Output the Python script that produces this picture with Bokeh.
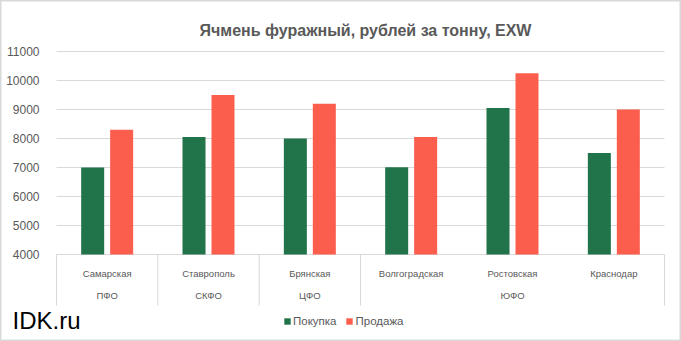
from bokeh.plotting import figure
from bokeh.models import FixedTicker, Label, Legend, LegendItem, ColumnDataSource, Range1d, LinearAxis
from bokeh.core.properties import value
from bokeh.embed import file_html
from bokeh.resources import INLINE

cities = ["Самарская", "Ставрополь", "Брянская", "Волгоградская", "Ростовская", "Краснодар"]
regions = ["ПФО", "СКФО", "ЦФО", "ЮФО"]
region_sizes = [1, 1, 1, 3]
buy = [7000, 8050, 8000, 7010, 9050, 7500]
sell = [8300, 9500, 9200, 8050, 10250, 9000]
y_ticks = [4000, 5000, 6000, 7000, 8000, 9000, 10000, 11000]

GREEN = "#21734A"
RED = "#FC5E4D"
GREY = "#595959"
LINE = "#D9D9D9"
FONT = "Liberation Sans"

W, H = 681, 341
plot_left, plot_right = 56, 664          # pixel extent of the category area
px_per_cat = (plot_right - plot_left) / len(cities)
px_per_unit = 29.0 / 1000.0               # pixels per rouble
y_base = 4000
base_px = 254                             # pixel row (from top) of the 4000 line

x_start = -plot_left / px_per_cat
x_end = len(cities) + (W - plot_right) / px_per_cat
y_end = y_base + base_px / px_per_unit
y_start = y_base - (H - base_px) / px_per_unit

p = figure(width=W, height=H, output_backend="svg", toolbar_location=None,
           x_range=Range1d(x_start, x_end), y_range=Range1d(y_start, y_end),
           min_border=0, x_axis_location=None, y_axis_location=None)
p.outline_line_color = LINE
p.outline_line_width = 2
p.xgrid.visible = False
p.ygrid.visible = False

yax = LinearAxis(fixed_location=0, ticker=FixedTicker(ticks=y_ticks))
yax.axis_line_color = None
yax.major_tick_line_color = None
yax.minor_tick_line_color = None
yax.major_label_text_font = FONT
yax.major_label_text_font_size = "12px"
yax.major_label_text_color = GREY
yax.major_label_standoff = 11
p.add_layout(yax, "left")

# horizontal gridlines across the plot area
p.segment(x0=[0] * len(y_ticks), x1=[len(cities)] * len(y_ticks), y0=y_ticks, y1=y_ticks,
          line_color=LINE, line_width=1)

xs = [i + 0.5 for i in range(len(cities))]
off = 0.143
bw = 0.227
src = ColumnDataSource(dict(
    xb=[x - off for x in xs], xs_=[x + off for x in xs],
    buy=buy, sell=sell, base=[y_base] * len(cities)))
rb = p.vbar(x="xb", top="buy", bottom="base", width=bw, source=src, fill_color=GREEN, line_color=None)
rs = p.vbar(x="xs_", top="sell", bottom="base", width=bw, source=src, fill_color=RED, line_color=None)

def py(px):
    return y_base - (px - base_px) / px_per_unit

seps = [0]
acc = 0
for s in region_sizes:
    acc += s
    seps.append(acc)
p.segment(x0=seps, x1=seps, y0=[y_base] * len(seps), y1=[py(305)] * len(seps),
          line_color=LINE, line_width=1)

p.text(x=xs, y=[py(273)] * len(cities), text=cities, text_font=value(FONT),
       text_font_size="9.5px", text_color=GREY, text_align="center", text_baseline="middle")
rx = []
acc = 0
for s in region_sizes:
    rx.append(acc + s / 2)
    acc += s
p.text(x=rx, y=[py(295)] * len(regions), text=regions, text_font=value(FONT),
       text_font_size="9.5px", text_color=GREY, text_align="center", text_baseline="middle")

p.add_layout(Label(x=365, y=H - 30, x_units="screen", y_units="screen",
                   text="Ячмень фуражный, рублей за тонну, EXW", text_font=FONT,
                   text_font_size="16px", text_font_style="bold", text_color=GREY,
                   text_align="center", text_baseline="middle"))

legend = Legend(items=[LegendItem(label="Покупка", renderers=[rb]),
                       LegendItem(label="Продажа", renderers=[rs])],
                orientation="horizontal", location=(283, 14),
                glyph_width=8, glyph_height=8, label_text_font=FONT,
                label_text_font_size="11.5px", label_text_color=GREY,
                label_standoff=2, spacing=9, padding=0, margin=0,
                border_line_color=None, background_fill_alpha=0, label_height=12)
p.add_layout(legend)

p.add_layout(Label(x=12, y=H - 320, x_units="screen", y_units="screen", text="IDK.ru",
                   text_font=FONT, text_font_size="24px", text_color="#000000",
                   text_baseline="middle"))

open("out.html", "w").write(file_html(p, INLINE))
